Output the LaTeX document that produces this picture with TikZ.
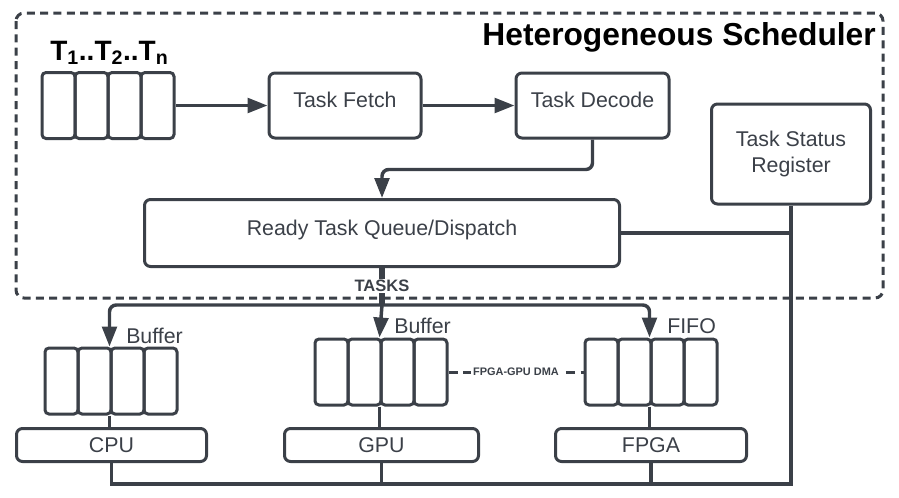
\documentclass[tikz,border=0pt]{standalone}
\usepackage{fontspec}
\setmainfont{Liberation Sans}
\usetikzlibrary{positioning, calc, arrows.meta}
\definecolor{ink}{HTML}{3B4048}

\begin{document}
\begin{tikzpicture}[x=0.75pt, y=-0.75pt,
    box/.style={draw=ink, line width=2.25pt, rounded corners=4.5pt, text=ink,
        font=\fontsize{16}{19.5}\selectfont, align=center},
    stage/.style={box, text height=0.75em, text depth=0.45em},
    cell/.style={draw=ink, line width=2.25pt, rounded corners=3pt,
        minimum width=24.75pt, minimum height=49.5pt},
    wire/.style={draw=ink, line width=2.6pt},
    arrow/.style={wire, -{Triangle[length=15pt,width=11pt]}},
    lbl/.style={text=ink, font=\fontsize{16}{19.5}\selectfont, inner sep=0pt},
    node distance=69pt]
    \useasboundingbox (0,0) rectangle (899,497);

    % scheduler frame
    \draw[draw=ink, line width=2.25pt, dash pattern=on 6pt off 4pt, rounded corners=6pt]
        (16,13) rectangle (883,298);
    \node[font=\fontsize{23.8}{28}\selectfont\bfseries, anchor=base east, inner sep=0pt]
        (title) at (876,45) {Heterogeneous Scheduler};
    \node[font=\fontsize{21}{25}\selectfont\bfseries, anchor=base west, inner sep=0pt]
        (tlist) at (50,60) {T\textsubscript{1}..T\textsubscript{2}..T\textsubscript{n}};

    % queues
    \foreach \q/\x/\y in {in/58.5/105.5, cpu/61.5/381, gpu/331.5/372, fpga/601.5/372}
        \foreach \i in {1,...,4}
            \node[cell] (\q\i) at ({\x+33*(\i-1)},\y) {};

    \node[stage, minimum width=114pt, minimum height=48.75pt, right=69pt of in4] (fetch) {Task Fetch};
    \node[stage, minimum width=114.75pt, minimum height=48.75pt, right=69pt of fetch] (decode) {Task Decode};
    \node[box, minimum width=119.25pt, minimum height=75pt] (status) at (791,154) {Task Status\\Register};
    \node[stage, minimum width=356.25pt, minimum height=50.25pt] (ready) at (382,233) {Ready Task Queue/Dispatch};

    \node[box, minimum width=142.5pt, minimum height=24.75pt] (cpu) at (111.5,445) {CPU};
    \node[box, minimum width=145.5pt, minimum height=24.75pt] (gpu) at (381.5,445) {GPU};
    \node[box, minimum width=143.25pt, minimum height=24.75pt] (fpga) at (651,445) {FPGA};

    \node[lbl, anchor=west] (cpubuf) at (126,336) {Buffer};
    \node[lbl, anchor=west] (gpubuf) at (394,326) {Buffer};
    \node[lbl, anchor=west] (fifo) at (667,326) {FIFO};

    \draw[arrow] (in4) -- (fetch);
    \draw[arrow] (fetch) -- (decode);
    \draw[arrow, rounded corners=5pt] (decode.south) -- ++(0,30) -| (ready.north);

    % dispatch
    \node[font=\fontsize{12.4}{15}\selectfont\bfseries, text=ink, inner sep=1pt] (tasks) at (382,286) {TASKS};
    \coordinate (split) at (382,305);
    \draw[wire, line width=4.3pt] (ready.south) -- (tasks.north);
    \draw[wire, line width=4.3pt] (tasks.south) -- (split);
    \draw[arrow, rounded corners=5pt] (split) -| (cpu3.north west);
    \draw[arrow] (split) -- (gpu3.north west);
    \draw[arrow, rounded corners=5pt] (split) -| (fpga3.north west);

    \draw[wire] (cpu3.south west) -- (cpu3.south west |- cpu.north);
    \draw[wire] (gpu3.south west) -- (gpu3.south west |- gpu.north);
    \draw[wire] (fpga3.south west) -- (fpga3.south west |- fpga.north);

    \draw[draw=ink, line width=2.25pt, dash pattern=on 7pt off 4pt] (gpu4.east) --
        node[font=\fontsize{8.2}{10}\selectfont\bfseries, text=ink, fill=white, inner sep=2pt] (dma) {FPGA-GPU DMA}
        (fpga1.west);

    % status bus
    \coordinate (bus) at (791,484);
    \draw[wire] (ready.east) -- (ready.east -| status.south);
    \draw[wire] (status.south) -- (bus) -| (cpu.south);
    \draw[wire] (gpu.south) -- (gpu.south |- bus);
    \draw[wire] (fpga.south) -- (fpga.south |- bus);

\end{tikzpicture}
\end{document}
